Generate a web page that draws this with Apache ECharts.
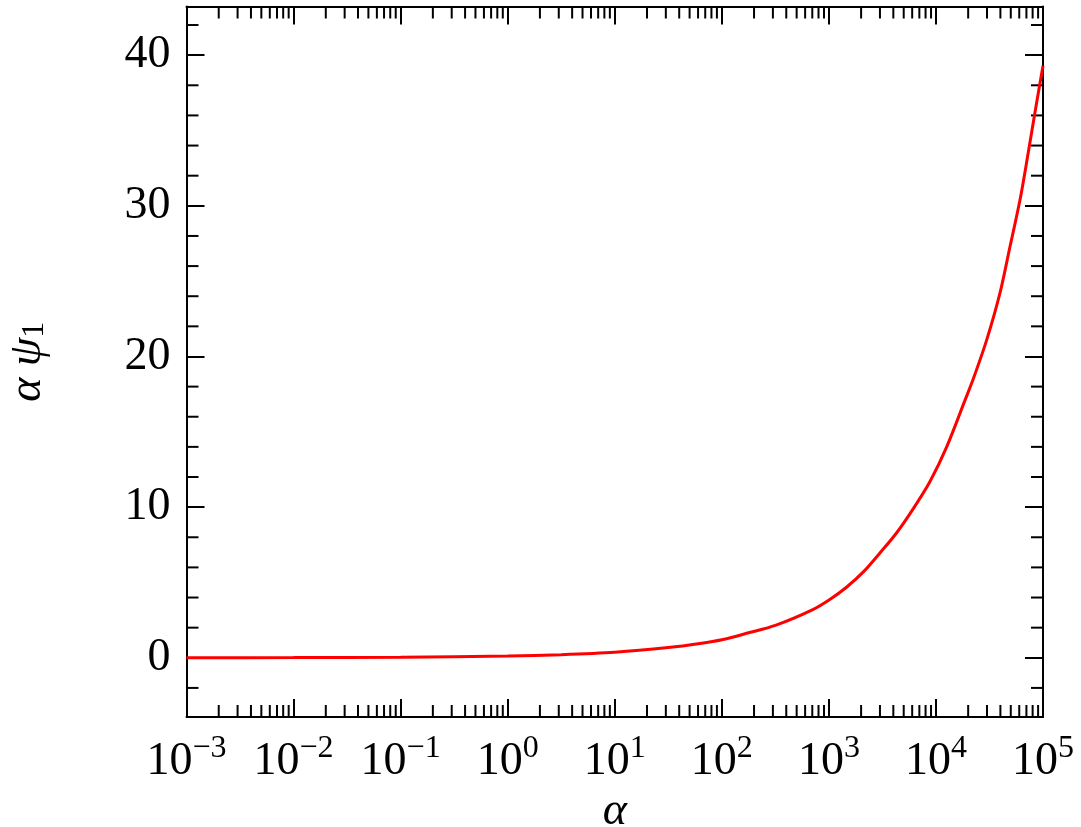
<!DOCTYPE html>
<html>
<head>
<meta charset="utf-8">
<script src="https://cdn.jsdelivr.net/npm/echarts@6/dist/echarts.min.js"></script>
<style>
  html, body { margin: 0; padding: 0; background: #fff; }
  #main { width: 1081px; height: 827px; }
</style>
</head>
<body>
<div id="main"></div>
<script>
// curve
const alphaVals = [0.001, 0.01, 0.1, 1, 3.16, 10, 31.6, 62.5, 100, 178, 316, 708, 1020, 1470, 2100, 3010, 4300, 6150, 8800, 12600, 18700, 22300, 29800, 39600, 49200, 61000, 72700, 84100, 100000]
const psiVals = [0.004, 0.012, 0.04, 0.12, 0.21, 0.37, 0.68, 0.95, 1.2, 1.66, 2.15, 3.2, 3.87, 4.7, 5.7, 6.97, 8.3, 9.9, 11.7, 14.0, 17.1, 18.5, 21.1, 24.2, 27.3, 30.4, 33.5, 36.2, 39.3]

// axes
const xMin = 0.001, xMax = 100000
const yMin = -3.93, yMax = 43.23
const xMajor = [0.001, 0.01, 0.1, 1, 10, 100, 1000, 10000, 100000]
const xMinorMult = [2, 3, 4, 5, 6, 7, 8, 9]
const yMajor = [0, 10, 20, 30, 40]
const yMinor = [-2, 2, 4, 6, 8, 12, 14, 16, 18, 22, 24, 26, 28, 32, 34, 36, 38, 42]

const xMinor = []
xMajor.slice(0, -1).forEach(d => xMinorMult.forEach(m => xMinor.push(d * m)))

const font = "'Liberation Serif', 'DejaVu Serif', serif"
const ink = '#000'

const chart = echarts.init(document.getElementById('main'))

function tickLine(p0, p1) {
  return { type: 'line', shape: { x1: p0[0], y1: p0[1], x2: p1[0], y2: p1[1] }, style: { stroke: ink, lineWidth: 2 } }
}

const frameAxis = {
  axisLine: { onZero: false, lineStyle: { color: ink, width: 2 } },
  splitLine: { show: false }
}

const option = {
  animation: false,
  backgroundColor: '#fff',
  grid: { left: 186.5, right: 38, top: 6.5, bottom: 110, containLabel: false, outerBoundsMode: 'none' },
  xAxis: [
    {
      ...frameAxis,
      type: 'log', logBase: 10, min: xMin, max: xMax, position: 'bottom',
      name: 'α', nameLocation: 'middle', nameGap: 72, nameMoveOverlap: false,
      nameTextStyle: { fontFamily: font, fontStyle: 'italic', fontSize: 46, color: ink },
      axisTick: { inside: true, length: 18, lineStyle: { color: ink, width: 2 }, customValues: xMajor },
      axisLabel: {
        customValues: xMajor, margin: 16, color: ink,
        formatter: v => '{b|10}{s|' + String(Math.round(Math.log10(v))).replace('-', '−') + '}',
        rich: {
          b: { fontFamily: font, fontSize: 46, color: ink },
          s: { fontFamily: font, fontSize: 32, color: ink, padding: [0, 0, 26, 0] }
        }
      }
    },
    {
      ...frameAxis,
      type: 'log', logBase: 10, min: xMin, max: xMax, position: 'top',
      axisTick: { inside: true, length: 18, lineStyle: { color: ink, width: 2 }, customValues: xMajor },
      axisLabel: { show: false }
    }
  ],
  yAxis: [
    {
      ...frameAxis,
      type: 'value', min: yMin, max: yMax, position: 'left',
      name: '{i|α ψ}{s|1}', nameLocation: 'middle', nameGap: 136, nameRotate: 90, nameMoveOverlap: false,
      nameTextStyle: {
        rich: {
          i: { fontFamily: font, fontStyle: 'italic', fontSize: 46, color: ink },
          s: { fontFamily: font, fontSize: 32, color: ink, padding: [14, 0, 0, 0] }
        }
      },
      axisTick: { inside: true, length: 18, lineStyle: { color: ink, width: 2 }, customValues: yMajor },
      axisLabel: { customValues: yMajor, margin: 16, fontFamily: font, fontSize: 46, color: ink }
    },
    {
      ...frameAxis,
      type: 'value', min: yMin, max: yMax, position: 'right',
      axisTick: { inside: true, length: 18, lineStyle: { color: ink, width: 2 }, customValues: yMajor },
      axisLabel: { show: false }
    }
  ],
  series: [
    {
      type: 'line',
      data: alphaVals.map((a, i) => [a, psiVals[i]]),
      showSymbol: false,
      smooth: 0.3,
      lineStyle: { color: '#ff0000', width: 3 },
      z: 5
    },
    {
      // minor ticks on bottom and top
      type: 'custom',
      data: xMinor.map(v => [v, 0]),
      clip: false,
      silent: true,
      renderItem: (params, api) => {
        const v = api.value(0)
        const b = api.coord([v, yMin]), t = api.coord([v, yMax])
        return { type: 'group', children: [
          tickLine(b, [b[0], b[1] - 12]),
          tickLine(t, [t[0], t[1] + 12])
        ] }
      }
    },
    {
      // minor ticks on left and right
      type: 'custom',
      data: yMinor.map(v => [1, v]),
      clip: false,
      silent: true,
      renderItem: (params, api) => {
        const v = api.value(1)
        const l = api.coord([xMin, v]), r = api.coord([xMax, v])
        return { type: 'group', children: [
          tickLine(l, [l[0] + 12, l[1]]),
          tickLine(r, [r[0] - 12, r[1]])
        ] }
      }
    }
  ]
}
chart.setOption(option)
</script>
</body>
</html>
